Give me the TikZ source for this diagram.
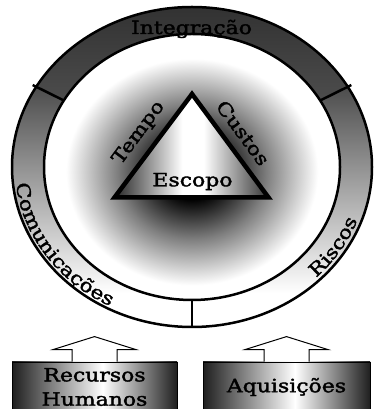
\documentclass[tikz,border=0pt]{standalone}
\usepackage{fontspec}
\setmainfont{DejaVu Serif}[FakeStretch=1.2, FakeBold=2]
\usetikzlibrary{calc,decorations.text}

% path bounding box maps to 25bp..75bp of each shading
\pgfdeclareverticalshading{topseg}{100bp}{color(0bp)=(black!70); color(25bp)=(black!70); color(75bp)=(black!83); color(100bp)=(black!83)}
\pgfdeclareverticalshading{sideseg}{100bp}{color(0bp)=(white); color(32bp)=(white); color(75bp)=(black!70); color(100bp)=(black!70)}
\pgfdeclareradialshading{glow}{\pgfpoint{0bp}{0bp}}{color(0bp)=(black); color(5bp)=(black); color(12.5bp)=(black!50); color(21bp)=(white); color(50bp)=(white)}
\pgfdeclarehorizontalshading{triShade}{100bp}{color(0bp)=(black!85); color(25bp)=(black!85); color(47bp)=(white); color(54bp)=(white); color(75bp)=(black!80); color(100bp)=(black!80)}
\pgfdeclarehorizontalshading{boxShade}{100bp}{color(0bp)=(black!88); color(25bp)=(black!88); color(52.5bp)=(white); color(75bp)=(black!88); color(100bp)=(black!88)}

\newcommand\lblfont{\fontsize{18.3}{24.3}\selectfont}

\begin{document}
\begin{tikzpicture}[x=1pt,y=1pt,
  ring/.style={line width=2.5pt},
  lbl/.style={font=\lblfont, inner sep=0pt},
  box/.style={draw, line width=0.8pt, shade, shading=boxShade, font=\lblfont, align=center, inner sep=0pt, minimum height=50pt},
  blockarrow/.style={fill=white, draw, line width=1pt, line join=miter},
  ringtext/.style={decorate, decoration={text along path, text align=center, text={|\lblfont|#1}}}
]
\clip (0,0) rectangle (374,409);
\fill[white] (0,0) rectangle (374,409);
\coordinate (c) at (192,242);

% inner disk with glow
\fill[white] (c) ellipse[x radius=148, y radius=133];
\begin{scope}
  \clip (c) ellipse[x radius=148, y radius=133];
  \shade[shading=glow] (192,237) ellipse[x radius=150, y radius=135];
\end{scope}

% ring segments
\shade[shading=topseg] ($(c)+(30:180 and 160)$) arc[start angle=30, end angle=150, x radius=180, y radius=160]
  -- ($(c)+(150:148 and 133)$) arc[start angle=150, end angle=30, x radius=148, y radius=133] -- cycle;
\shade[shading=sideseg] ($(c)+(150:180 and 160)$) arc[start angle=150, end angle=270, x radius=180, y radius=160]
  -- ($(c)+(270:148 and 133)$) arc[start angle=270, end angle=150, x radius=148, y radius=133] -- cycle;
\shade[shading=sideseg] ($(c)+(270:180 and 160)$) arc[start angle=270, end angle=390, x radius=180, y radius=160]
  -- ($(c)+(390:148 and 133)$) arc[start angle=390, end angle=270, x radius=148, y radius=133] -- cycle;

% ring outlines and dividers
\draw[ring] (c) ellipse[x radius=180, y radius=160];
\draw[ring] (c) ellipse[x radius=148, y radius=133];
\foreach \a in {30,150}
  \draw[ring] ($(c)+(\a:148 and 133)$) -- ($(c)+(\a:184 and 164)$);
\draw[ring] ($(c)+(270:148 and 133)$) -- ($(c)+(270:180 and 160)$);

% triangle
\shadedraw[shading=triShade, line width=4.5pt, line join=miter] (192,315) -- (114.5,211.5) -- (268.5,211.5) -- cycle;

% labels
\node[lbl, anchor=base] (escopo) at (192.5,222.7) {Escopo};
\node[lbl, rotate=53.5] (tempo) at (139,276) {Tempo};
\node[lbl, rotate=-53.5] (custos) at (243,276) {Custos};
\node[lbl, anchor=base] (integ) at (191.5,375) {Integração};

\path[ringtext={Comunicações}] ($(c)+(180:177 and 157)$) arc[start angle=180, end angle=248, x radius=177, y radius=157];
\path[ringtext={Riscos}] ($(c)+(300:176 and 156)$) arc[start angle=300, end angle=356, x radius=176, y radius=156];

% boxes
\node[box, minimum width=165pt] (rh) at (94.5,22) {Recursos\\Humanos};
\node[box, minimum width=167pt] (aq) at (286.5,22) {Aquisições};

% block arrows
\foreach \n in {rh,aq}
  \filldraw[blockarrow] ([xshift=-22.5pt]\n.north) -- ++(0,12) -- ++(-19,0) -- ([yshift=25pt]\n.north)
    -- ([xshift=41.5pt,yshift=12pt]\n.north) -- ++(-19,0) -- ([xshift=22.5pt]\n.north);
\end{tikzpicture}
\end{document}
